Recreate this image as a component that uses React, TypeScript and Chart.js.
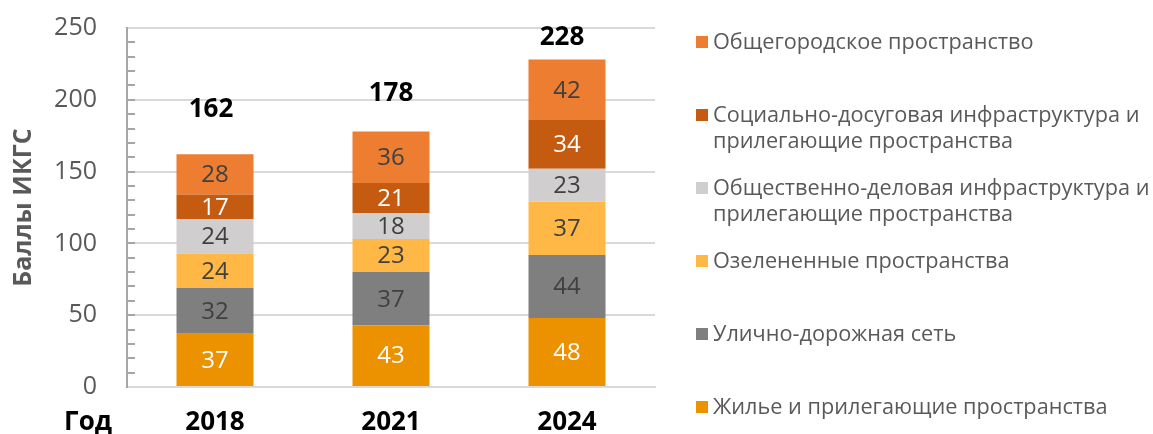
import { useEffect, useRef } from 'react';
import { Chart, registerables } from 'chart.js';

Chart.register(...registerables);

// Survey years (x categories)
const categories = ['2018', '2021', '2024'];

// Component scores, bottom of the stack first
const housing = [37, 43, 48];
const streets = [32, 37, 44];
const greenSpaces = [24, 23, 37];
const business = [24, 18, 23];
const social = [17, 21, 34];
const citywide = [28, 36, 42];

const yMin = 0;
const yMax = 250;
const yMajorStep = 50;
const yMinorStep = 10;

const NUM_FONT = '"Open Sans", "Noto Sans", sans-serif';
const TEXT_GRAY = '#595959';
const AXIS_GRAY = '#a6a6a6';
const GRID_GRAY = '#d9d9d9';

type Series = { name: string; values: number[]; color: string; labelColor: string };

const SERIES: Series[] = [
  { name: 'Жилье и прилегающие пространства', values: housing, color: '#ec9200', labelColor: '#ffffff' },
  { name: 'Улично-дорожная сеть', values: streets, color: '#7f7f7f', labelColor: '#404040' },
  { name: 'Озелененные пространства', values: greenSpaces, color: '#ffb846', labelColor: '#404040' },
  { name: 'Общественно-деловая инфраструктура и\nприлегающие пространства', values: business, color: '#d0cece', labelColor: '#404040' },
  { name: 'Социально-досуговая инфраструктура и\nприлегающие пространства', values: social, color: '#c55a11', labelColor: '#ffffff' },
  { name: 'Общегородское пространство', values: citywide, color: '#ed7d31', labelColor: '#404040' },
];

const totals = categories.map((_, i) => SERIES.reduce((sum, s) => sum + s.values[i], 0));

// Hand-placed offsets of the total labels above each column (px)
const totalLift = [45, 38, 22];
const totalShift = [-4, 0, -5];

// Short inward tick marks on the value axis every minor step
const minorTicksPlugin = {
  id: 'minorTicks',
  afterDraw(chart: any) {
    const y = chart.scales.y;
    const { ctx, chartArea } = chart;
    ctx.save();
    ctx.strokeStyle = AXIS_GRAY;
    ctx.lineWidth = 2;
    for (let v = yMin + yMinorStep; v < yMax; v += yMinorStep) {
      const py = Math.round(y.getPixelForValue(v));
      ctx.beginPath();
      ctx.moveTo(chartArea.left, py);
      ctx.lineTo(chartArea.left + 8, py);
      ctx.stroke();
    }
    ctx.restore();
  },
};

// Value printed in the middle of each stacked segment
const segmentLabelsPlugin = {
  id: 'segmentLabels',
  afterDatasetsDraw(chart: any) {
    const { ctx } = chart;
    ctx.save();
    ctx.font = `24px ${NUM_FONT}`;
    ctx.textAlign = 'center';
    ctx.textBaseline = 'middle';
    chart.data.datasets.forEach((ds: any, i: number) => {
      const meta = chart.getDatasetMeta(i);
      meta.data.forEach((bar: any, j: number) => {
        const { x, y, base } = bar.getProps(['x', 'y', 'base'], true);
        ctx.fillStyle = SERIES[i].labelColor;
        ctx.fillText(String(ds.data[j]), x, (y + base) / 2 + 1);
      });
    });
    ctx.restore();
  },
};

// Column totals above the stacks and the "Год" caption beside the years
const totalsPlugin = {
  id: 'totals',
  afterDatasetsDraw(chart: any) {
    const { ctx, chartArea } = chart;
    const yScale = chart.scales.y;
    const topMeta = chart.getDatasetMeta(chart.data.datasets.length - 1);
    ctx.save();
    ctx.font = `bold 26px ${NUM_FONT}`;
    ctx.fillStyle = '#000000';
    ctx.textAlign = 'center';
    ctx.textBaseline = 'middle';
    totals.forEach((t, j) => {
      const bar = topMeta.data[j];
      const py = yScale.getPixelForValue(t) - totalLift[j];
      ctx.fillText(String(t), bar.x + totalShift[j], py);
    });
    ctx.textAlign = 'right';
    ctx.fillText('Год', chartArea.left - 15, chartArea.bottom + 36);
    ctx.restore();
  },
};

export default function App() {
  const canvasRef = useRef<HTMLCanvasElement | null>(null);

  useEffect(() => {
    const canvas = canvasRef.current;
    if (!canvas) return;
    const chart = new Chart(canvas, {
      type: 'bar',
      data: {
        labels: categories,
        datasets: SERIES.map((s) => ({
          label: s.name,
          data: s.values,
          backgroundColor: s.color,
          borderWidth: 0,
          categoryPercentage: 1,
          barPercentage: 0.4375,
        })),
      },
      options: {
        animation: false,
        responsive: false,
        maintainAspectRatio: false,
        devicePixelRatio: 1,
        layout: { padding: { left: 0, top: 28, right: 498, bottom: 0 } },
        plugins: {
          legend: { display: false },
          tooltip: { enabled: false },
        },
        scales: {
          x: {
            stacked: true,
            grid: { display: false, drawTicks: false },
            border: { display: true, color: GRID_GRAY, width: 2 },
            ticks: {
              color: '#000000',
              font: { family: NUM_FONT, size: 26, weight: 'bold' },
              padding: 20,
            },
            afterFit: (s: any) => {
              s.height = 47;
            },
          },
          y: {
            stacked: true,
            min: yMin,
            max: yMax,
            ticks: {
              stepSize: yMajorStep,
              color: TEXT_GRAY,
              font: { family: NUM_FONT, size: 25 },
              padding: 30,
            },
            grid: { color: GRID_GRAY, lineWidth: 2, drawTicks: false },
            border: { display: true, color: AXIS_GRAY, width: 2 },
            title: {
              display: true,
              text: 'Баллы ИКГС',
              color: TEXT_GRAY,
              font: { family: NUM_FONT, size: 25, weight: 'bold' },
              padding: { top: 9, bottom: 0 },
            },
            afterFit: (s: any) => {
              s.width = 127;
              s.paddingTop = 15;
              s.paddingBottom = 15;
            },
          },
        },
      },
      plugins: [minorTicksPlugin, segmentLabelsPlugin, totalsPlugin],
    } as any);
    return () => chart.destroy();
  }, []);

  const legendItems = SERIES.slice().reverse();

  return (
    <div style={{ position: 'fixed', left: 0, top: 0, width: 1153, height: 434, background: '#ffffff', overflow: 'hidden' }}>
      <canvas ref={canvasRef} width={1153} height={434} style={{ display: 'block', width: 1153, height: 434 }} />
      <div style={{ position: 'absolute', left: 696, top: 28 }}>
        {legendItems.map((s) => (
          <div key={s.name} style={{ height: 73, display: 'flex', alignItems: 'flex-start' }}>
            <span style={{ width: 12, height: 12, background: s.color, marginTop: 8, marginRight: 5, flex: 'none' }} />
            <span
              style={{
                fontFamily: NUM_FONT,
                fontSize: 21.7,
                lineHeight: '26px',
                color: TEXT_GRAY,
                whiteSpace: 'pre',
              }}
            >
              {s.name}
            </span>
          </div>
        ))}
      </div>
    </div>
  );
}
